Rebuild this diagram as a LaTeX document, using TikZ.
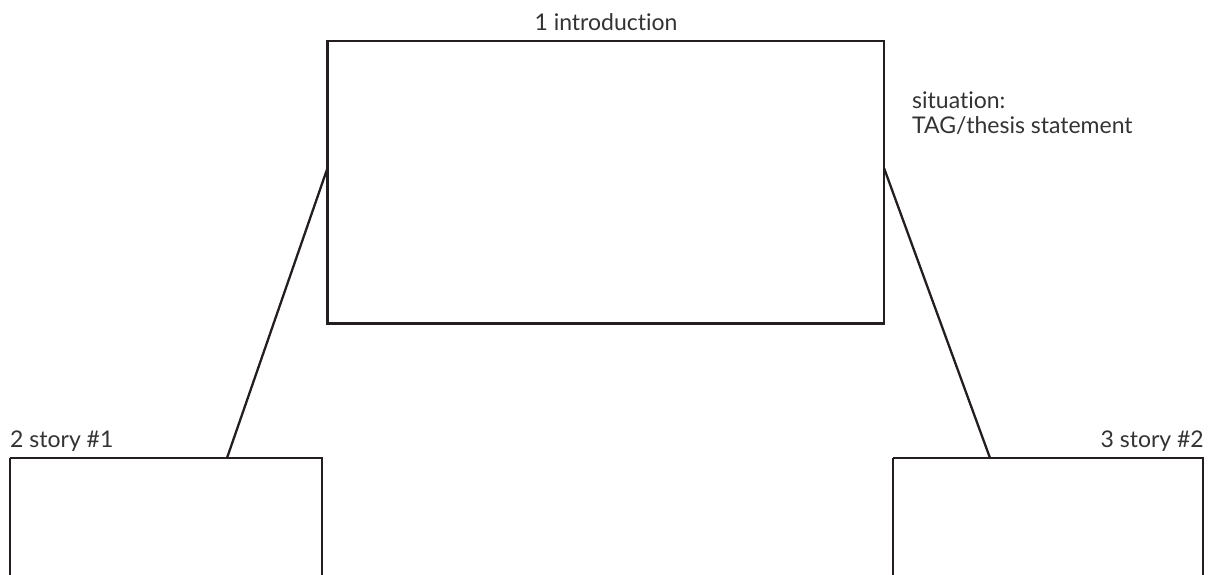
\documentclass[tikz,border=0pt]{standalone}
\usepackage{fontspec}
\setmainfont{Lato}[Ligatures={NoCommon,NoRare}]
\definecolor{ink}{HTML}{231F20}
\definecolor{txt}{HTML}{333333}
\begin{document}
\begin{tikzpicture}[x=1pt,y=-1pt,
  panel/.style={draw=ink,line width=2.6pt,line join=miter},
  link/.style={draw=ink,line width=2.3pt},
  lbl/.style={inner sep=0pt,text=txt,font=\fontsize{23}{29}\selectfont}]
\useasboundingbox (0,0) rectangle (1212,574);
\draw[panel] (327.5,41) rectangle (884,323.5);
\coordinate (mainL) at (327.5,168);
\coordinate (mainR) at (884,168);
\draw[panel] (10,458) -- (10,580) (10,458) -- (322,458) -- (322,580);
\draw[panel] (893,458) -- (893,580) (893,458) -- (1203,458) -- (1203,580);
\coordinate (leftT) at (227,458);
\coordinate (rightT) at (990,458);
\draw[link] (mainL) -- (leftT);
\draw[link] (mainR) -- (rightT);
\node[lbl,anchor=base] (t1) at (606,30) {1 introduction};
\node[lbl,anchor=base west] (t2) at (912,108) {situation:};
\node[lbl,anchor=base west] (t3) at (912,133) {TAG/thesis statement};
\node[lbl,anchor=base west] (t4) at (10,447) {2 story \#1};
\node[lbl,anchor=base east] (t5) at (1204,447) {3 story \#2};
\end{tikzpicture}
\end{document}
